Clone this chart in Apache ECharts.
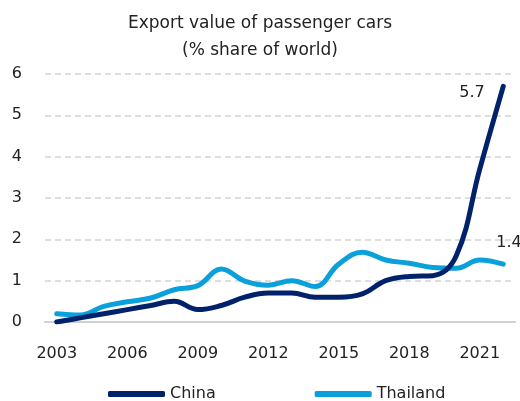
<!DOCTYPE html>
<html>
<head>
<meta charset="utf-8">
<script src="https://cdn.jsdelivr.net/npm/echarts@6/dist/echarts.min.js"></script>
<style>html,body{margin:0;padding:0;background:#fff}#c{width:520px;height:401px}</style>
</head>
<body>
<div id="c"></div>
<script>
var years = ['2003','2004','2005','2006','2007','2008','2009','2010','2011','2012','2013','2014','2015','2016','2017','2018','2019','2020','2021','2022'];
var china = [0.0,0.1,0.2,0.3,0.4,0.5,0.3,0.4,0.6,0.7,0.7,0.6,0.6,0.68,1.0,1.1,1.12,1.6,3.7,5.7];
var thailand = [0.2,0.17,0.38,0.49,0.58,0.78,0.88,1.28,0.99,0.89,1.0,0.86,1.4,1.69,1.5,1.42,1.32,1.3,1.5,1.4];
var yTicks = [0,1,2,3,4,5,6];
var FONT = 'DejaVu Sans';
var chart = echarts.init(document.getElementById('c'));
chart.setOption({
  animation: false,
  title: {
    text: 'Export value of passenger cars\n(% share of world)',
    left: 'center', top: 5,
    textStyle: { fontFamily: FONT, fontSize: 17, fontWeight: 'normal', color: '#222', lineHeight: 27 }
  },
  grid: { left: 45, right: 5, top: 74, bottom: 79 },
  legend: {
    left: 108, top: 386, padding: 0,
    itemWidth: 57, itemHeight: 6, itemGap: 99,
    icon: 'roundRect',
    textStyle: { fontFamily: FONT, fontSize: 16, color: '#222' },
    data: ['China', 'Thailand']
  },
  xAxis: {
    type: 'category', data: years, boundaryGap: true,
    axisLine: { show: true, lineStyle: { color: '#d0d0d0', width: 2 } },
    axisTick: { show: false },
    axisLabel: { interval: 2, fontFamily: FONT, fontSize: 16, color: '#222', margin: 24 }
  },
  yAxis: {
    type: 'value', min: yTicks[0], max: yTicks[yTicks.length - 1], interval: 1,
    axisLine: { show: false }, axisTick: { show: false },
    splitLine: { lineStyle: { color: '#d4d4d4', type: [6, 4], width: 1.5 } },
    axisLabel: { fontFamily: FONT, fontSize: 16, color: '#222', margin: 23 }
  },
  series: [
    {
      name: 'China', type: 'line', smooth: 0.4, symbol: 'none',
      data: china,
      endLabel: { show: true, formatter: function (p) { return String(p.value); }, offset: [-52, 6], color: '#222', fontSize: 16, fontFamily: FONT },
      itemStyle: { color: '#00226b' },
      lineStyle: { color: '#00226b', width: 5, cap: 'round', join: 'round' },
      z: 3
    },
    {
      name: 'Thailand', type: 'line', smooth: 0.4, symbol: 'none',
      data: thailand,
      endLabel: { show: true, formatter: function (p) { return String(p.value); }, offset: [-15, -21], color: '#222', fontSize: 16, fontFamily: FONT },
      itemStyle: { color: '#0aa0dc' },
      lineStyle: { color: '#0aa0dc', width: 5, cap: 'round', join: 'round' },
      z: 2
    }
  ]
});
</script>
</body>
</html>
